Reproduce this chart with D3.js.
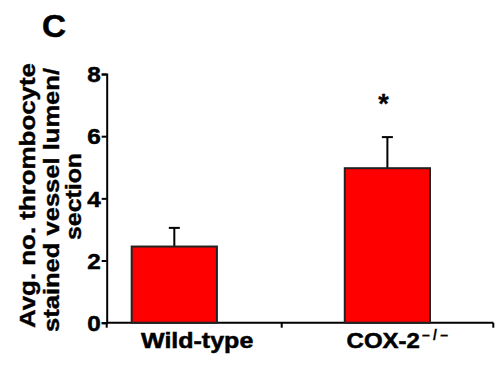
<!DOCTYPE html>
<html>
<head>
<meta charset="utf-8">
<script src="https://cdn.jsdelivr.net/npm/d3@7"></script>
<style>
  body { margin: 0; background: #fff; }
  text { font-family: "Liberation Sans", Arial, sans-serif; font-weight: bold; fill: #000; stroke: #000; stroke-width: 0.5px; }
</style>
</head>
<body>
<div id="chart"></div>
<script>
// Chart data
const categories = ["Wild-type", "COX-2"];
const means = [2.45, 4.97];
const errors = [0.6, 1.0];
const significant = [false, true];
const yTicks = [0, 2, 4, 6, 8];
const yTitleLines = ["Avg. no. thrombocyte", "stained vessel lumen/", "section"];

const width = 504, height = 366;

const svg = d3.select("#chart")
    .append("svg")
    .attr("width", width)
    .attr("height", height);

// Scales
const y = d3.scaleLinear().domain([0, 8]).range([322.7, 74]);
const x = d3.scaleBand().domain(categories).range([131.7, 430]).paddingInner(0.6).paddingOuter(0);
const mid = d => x(d) + x.bandwidth() / 2;

// Panel letter
svg.append("text")
    .attr("x", 42)
    .attr("y", 36.7)
    .style("font-size", "31px")
    .attr("textLength", 24)
    .attr("lengthAdjust", "spacingAndGlyphs")
    .text("C");

// Y axis
const yAxis = svg.append("g")
    .attr("transform", "translate(106.7,0)")
    .call(d3.axisLeft(y).tickValues(yTicks).tickSize(5).tickPadding(1));
yAxis.select(".domain").attr("stroke", "#000").attr("stroke-width", 2);
yAxis.selectAll(".tick line").attr("stroke", "#000").attr("stroke-width", 2);
yAxis.selectAll(".tick text")
    .style("font-size", "21.5px")
    .attr("dy", "0.36em")
    .attr("textLength", 13.5)
    .attr("lengthAdjust", "spacingAndGlyphs");

// X axis: line with ticks at the ends and the middle
const xEnds = [106.7, 281.7, 493.3];
svg.append("line")
    .attr("x1", xEnds[0]).attr("x2", xEnds[2])
    .attr("y1", y(0)).attr("y2", y(0))
    .attr("stroke", "#000").attr("stroke-width", 2);
svg.selectAll(".xtick")
    .data(xEnds)
    .enter()
    .append("line")
    .attr("class", "xtick")
    .attr("x1", d => d).attr("x2", d => d)
    .attr("y1", y(0)).attr("y2", y(0) + 5)
    .attr("stroke", "#000").attr("stroke-width", 2);

// Category labels (left-aligned a little off the bar centres, as in the figure)
const labelWidths = [112.3, 73.3];
svg.selectAll(".xlabel")
    .data(categories)
    .enter()
    .append("text")
    .attr("class", "xlabel")
    .attr("x", (d, i) => mid(d) + (i === 0 ? -33.3 : -40.8))
    .attr("y", 348.3)
    .style("font-size", "21.5px")
    .attr("textLength", (d, i) => labelWidths[i])
    .attr("lengthAdjust", "spacingAndGlyphs")
    .text(d => d);

// superscript on the knockout label
svg.append("text")
    .attr("x", 422)
    .attr("y", 339.5)
    .style("font-size", "14px")
    .style("stroke-width", "0.3px")
    .attr("textLength", 26)
    .attr("lengthAdjust", "spacing")
    .text("\u2013/\u2013");

// Error bars (upper only)
const err = svg.selectAll(".err")
    .data(categories)
    .enter()
    .append("g")
    .attr("class", "err");
err.append("line")
    .attr("x1", d => mid(d))
    .attr("x2", d => mid(d))
    .attr("y1", (d, i) => y(means[i]))
    .attr("y2", (d, i) => y(means[i] + errors[i]))
    .attr("stroke", "#000").attr("stroke-width", 2);
err.append("line")
    .attr("x1", d => mid(d) - 5.5)
    .attr("x2", d => mid(d) + 5.5)
    .attr("y1", (d, i) => y(means[i] + errors[i]))
    .attr("y2", (d, i) => y(means[i] + errors[i]))
    .attr("stroke", "#000").attr("stroke-width", 2);

// Bars
svg.selectAll(".bar")
    .data(categories)
    .enter()
    .append("rect")
    .attr("class", "bar")
    .attr("x", d => x(d))
    .attr("y", (d, i) => y(means[i]))
    .attr("width", x.bandwidth())
    .attr("height", (d, i) => y(0) - y(means[i]))
    .attr("fill", "#ff0000")
    .attr("stroke", "#222")
    .attr("stroke-width", 2);

// Significance marker
svg.selectAll(".sig")
    .data(categories.filter((d, i) => significant[i]))
    .enter()
    .append("text")
    .attr("class", "sig")
    .attr("x", d => mid(d) - 4)
    .attr("y", 112.5)
    .attr("text-anchor", "middle")
    .style("font-size", "27px")
    .style("stroke-width", "0.3px")
    .text("*");

// Y axis title, three rotated lines
const titleBaselines = [35, 58.5, 80.5];
const titleCentres = [195.5, 200, 196.5];
const titleLengths = [265, 264, 87];
svg.selectAll(".ytitle")
    .data(yTitleLines)
    .enter()
    .append("text")
    .attr("class", "ytitle")
    .attr("transform", (d, i) => `translate(${titleBaselines[i]},${titleCentres[i]}) rotate(-90)`)
    .attr("x", (d, i) => -titleLengths[i] / 2)
    .attr("textLength", (d, i) => titleLengths[i])
    .attr("lengthAdjust", "spacingAndGlyphs")
    .style("font-size", "22px")
    .style("stroke-width", "0.4px")
    .text(d => d);
</script>
</body>
</html>
